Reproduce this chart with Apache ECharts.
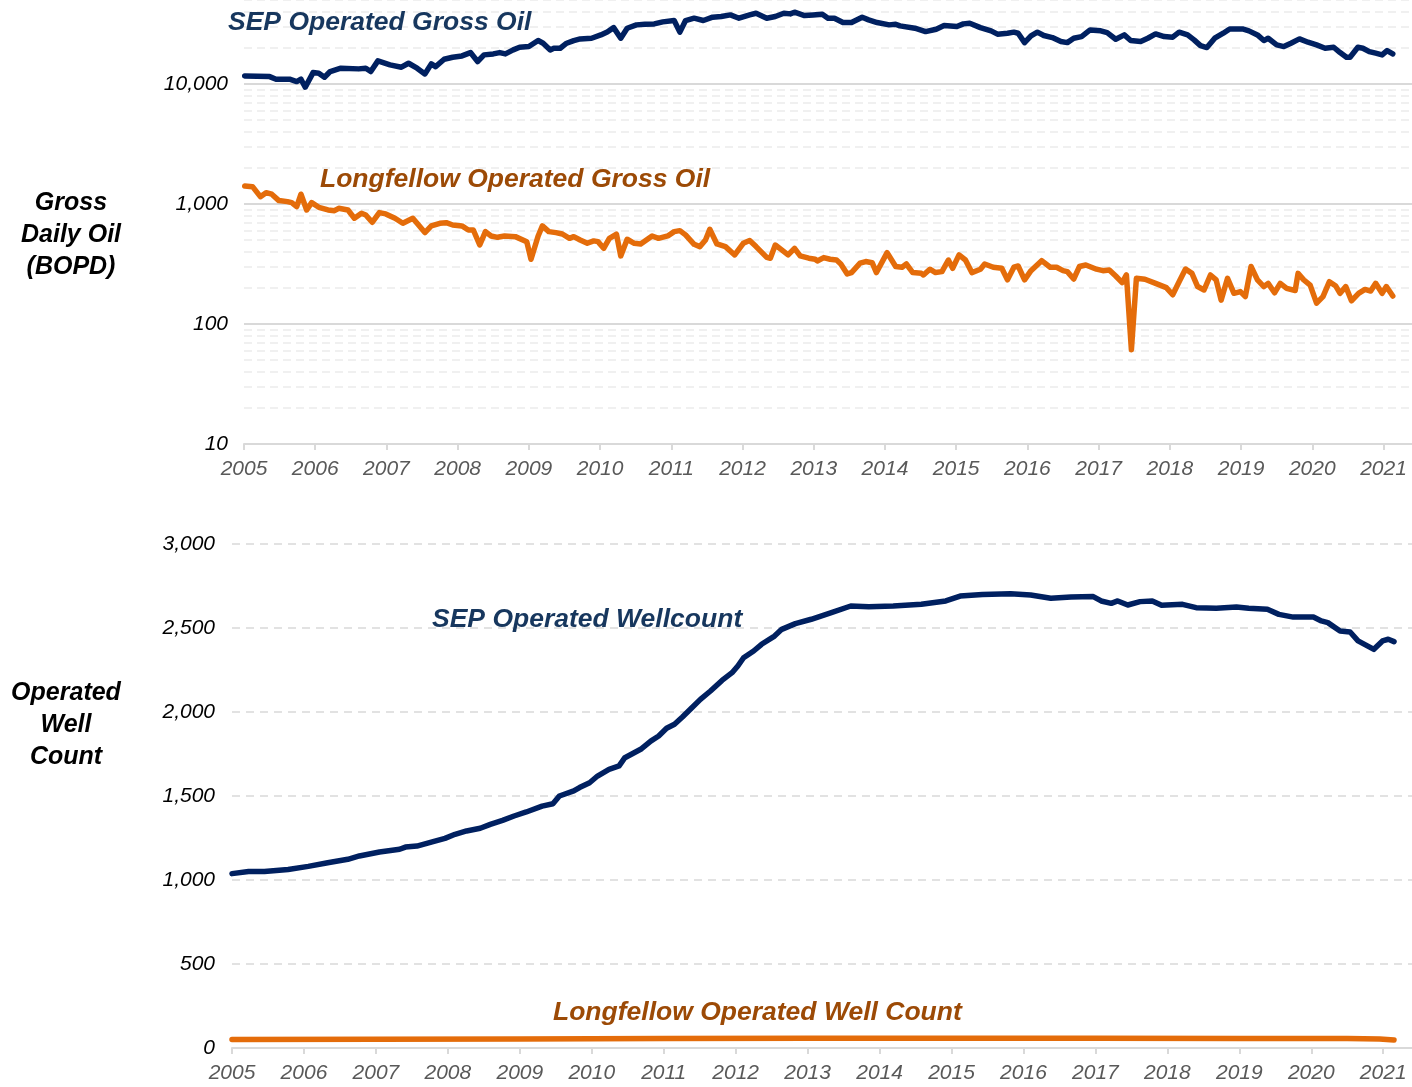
<!DOCTYPE html>
<html>
<head>
<meta charset="utf-8">
<script src="https://cdn.jsdelivr.net/npm/echarts@6/dist/echarts.min.js"></script>
<style>
html,body{margin:0;padding:0;background:#fff;}
#main{width:1412px;height:1087px;}
</style>
</head>
<body>
<div id="main"></div>
<script>
// ---------- DATA ----------
const yearTicks = [2005,2006,2007,2008,2009,2010,2011,2012,2013,2014,2015,2016,2017,2018,2019,2020,2021];
const oilMinorGrid = [20,30,40,50,60,70,80,90,200,300,400,500,600,700,800,900,2000,3000,4000,5000,6000,7000,8000,9000,20000,30000,40000,50000];

// SEP Operated Gross Oil (BOPD) [decimal year, value]
const sepOil = [
[2005.01,11660],[2005.36,11500],[2005.45,10940],[2005.64,10940],[2005.74,10450],[2005.80,10940],[2005.86,9390],[2005.97,12420],[2006.05,12270],[2006.13,11360],[2006.21,12670],[2006.36,13510],[2006.61,13340],[2006.71,13510],[2006.78,12670],[2006.88,15550],[2007.05,14390],[2007.21,13770],[2007.31,14860],[2007.43,13510],[2007.54,12110],[2007.63,14680],[2007.69,13930],[2007.81,16060],[2007.93,16680],[2008.06,17100],[2008.18,18240],[2008.28,15360],[2008.37,17450],[2008.50,17780],[2008.59,18240],[2008.67,17780],[2008.78,19200],[2008.87,20200],[2009.00,20470],[2009.13,22970],[2009.20,21830],[2009.30,19200],[2009.35,19830],[2009.44,19830],[2009.53,21830],[2009.63,22970],[2009.72,23710],[2009.88,24020],[2010.01,25590],[2010.10,27100],[2010.19,29440],[2010.29,24020],[2010.38,29100],[2010.51,31030],[2010.63,31440],[2010.76,31620],[2010.88,32870],[2011.04,33720],[2011.12,26980],[2011.20,33720],[2011.32,35260],[2011.45,33720],[2011.58,35940],[2011.70,36400],[2011.83,37580],[2011.95,35260],
[2012.10,37580],[2012.19,38800],[2012.34,35260],[2012.46,36400],[2012.58,38800],[2012.67,38310],[2012.73,39560],[2012.87,37100],[2012.99,37580],[2013.12,38100],[2013.20,35260],[2013.29,35260],[2013.41,32430],[2013.53,32430],[2013.68,35940],[2013.77,34150],[2013.89,32430],[2014.06,31030],[2014.15,31440],[2014.21,30430],[2014.42,29100],[2014.57,27290],[2014.72,28560],[2014.83,30610],[2015.01,30040],[2015.10,31620],[2015.19,32060],[2015.34,29440],[2015.49,27660],[2015.58,25960],[2015.72,26440],[2015.81,26980],[2015.87,26440],[2015.96,22080],[2016.05,25120],[2016.14,26980],[2016.23,25290],[2016.35,24320],[2016.47,22520],[2016.56,22080],[2016.65,24020],[2016.76,24790],[2016.88,28180],[2017.03,27660],[2017.12,26760],[2017.24,23560],[2017.36,25590],[2017.45,22970],[2017.59,22520],[2017.69,24020],[2017.80,26100],[2017.92,24790],[2018.04,24490],[2018.13,26980],[2018.25,25590],[2018.34,23280],[2018.43,20850],[2018.52,20070],[2018.63,24020],[2018.75,26440],[2018.84,28710],[2019.02,28710],[2019.11,27660],[2019.23,25590],[2019.32,22970],[2019.38,24020],[2019.50,21130],[2019.60,20470],[2019.70,21830],[2019.82,23710],[2019.94,22250],[2020.06,21130],[2020.18,19830],[2020.30,20200],[2020.39,18240],[2020.48,16680],[2020.53,16680],[2020.64,20200],[2020.71,19830],[2020.80,18560],[2020.89,18020],[2020.98,17450],[2021.05,18950],[2021.13,17780]
];

// Longfellow Operated Gross Oil (BOPD)
const lfOil = [
[2005.01,1413],[2005.12,1393],[2005.23,1150],[2005.31,1242],[2005.39,1205],[2005.49,1066],[2005.61,1045],[2005.67,1026],[2005.74,950],[2005.80,1205],[2005.88,891],[2005.95,1026],[2006.05,938],[2006.18,891],[2006.27,879],[2006.33,920],[2006.46,891],[2006.55,760],[2006.65,836],[2006.71,809],[2006.80,703],[2006.90,847],[2006.99,826],[2007.12,760],[2007.23,690],[2007.37,760],[2007.43,690],[2007.54,577],[2007.63,656],[2007.75,690],[2007.84,698],[2007.93,668],[2008.06,656],[2008.15,607],[2008.22,607],[2008.31,455],[2008.39,588],[2008.47,541],[2008.56,527],[2008.66,541],[2008.81,534],[2008.97,485],[2009.03,346],[2009.13,541],[2009.19,656],[2009.28,588],[2009.38,577],[2009.47,562],[2009.57,517],[2009.63,534],[2009.72,501],[2009.82,470],[2009.91,492],[2009.97,485],[2010.05,427],[2010.13,517],[2010.23,559],[2010.29,369],[2010.38,508],[2010.48,470],[2010.57,464],[2010.73,541],[2010.82,517],[2010.95,541],[2011.04,588],[2011.12,599],[2011.20,552],[2011.32,461],[2011.40,441],[2011.48,501],[2011.54,615],[2011.64,464],[2011.76,441],[2011.89,376],[2012.01,470],
[2012.10,495],[2012.19,441],[2012.34,359],[2012.39,353],[2012.46,455],[2012.55,414],[2012.64,376],[2012.73,427],[2012.81,369],[2012.93,353],[2013.02,346],[2013.05,335],[2013.14,357],[2013.23,346],[2013.32,341],[2013.38,316],[2013.47,261],[2013.53,268],[2013.65,321],[2013.73,331],[2013.82,324],[2013.88,268],[2014.03,393],[2014.15,301],[2014.24,297],[2014.30,316],[2014.39,268],[2014.51,264],[2014.54,256],[2014.63,286],[2014.71,268],[2014.80,273],[2014.89,341],[2014.95,291],[2015.04,376],[2015.13,341],[2015.22,268],[2015.34,286],[2015.40,316],[2015.52,297],[2015.64,291],[2015.72,233],[2015.81,297],[2015.87,304],[2015.96,233],[2016.05,278],[2016.20,337],[2016.32,297],[2016.41,297],[2016.50,278],[2016.56,273],[2016.65,237],[2016.73,301],[2016.82,310],[2016.97,286],[2017.06,278],[2017.15,282],[2017.24,251],[2017.33,221],[2017.39,256],[2017.46,61],[2017.53,240],[2017.65,236],[2017.80,218],[2017.95,201],[2018.04,175],[2018.13,225],[2018.22,287],[2018.31,264],[2018.39,205],[2018.48,192],[2018.57,256],[2018.65,233],[2018.72,158],[2018.81,240],[2018.90,180],[2018.99,186],[2019.06,169],[2019.14,301],[2019.23,233],[2019.32,205],[2019.38,218],[2019.47,182],[2019.55,218],[2019.64,198],[2019.76,190],[2019.80,264],[2019.88,233],[2019.97,211],[2020.06,149],[2020.15,169],[2020.24,225],[2020.33,207],[2020.39,180],[2020.47,205],[2020.55,156],[2020.65,180],[2020.74,194],[2020.82,188],[2020.89,218],[2020.98,180],[2021.04,205],[2021.13,171]
];

// SEP Operated Wellcount
const sepWells = [
[2005.00,1038],[2005.23,1050],[2005.45,1050],[2005.78,1063],[2006.06,1081],[2006.33,1103],[2006.61,1123],[2006.77,1143],[2007.05,1167],[2007.33,1183],[2007.41,1196],[2007.57,1202],[2007.82,1232],[2007.96,1248],[2008.10,1272],[2008.26,1292],[2008.45,1308],[2008.59,1331],[2008.76,1355],[2008.92,1381],[2009.09,1405],[2009.31,1440],[2009.46,1454],[2009.55,1500],[2009.75,1530],[2009.83,1550],[2009.97,1579],[2010.08,1619],[2010.24,1659],[2010.38,1679],[2010.46,1728],[2010.68,1778],[2010.82,1827],[2010.93,1857],[2011.04,1903],[2011.15,1927],[2011.26,1970],[2011.37,2016],[2011.51,2075],[2011.65,2125],[2011.81,2188],[2011.95,2234],[2012.03,2274],[2012.11,2323],[2012.25,2363],[2012.36,2403],[2012.54,2452],[2012.64,2492],[2012.83,2526],[2013.05,2552],[2013.33,2591],[2013.60,2631],[2013.85,2627],[2014.19,2631],[2014.58,2641],[2014.92,2661],[2015.12,2690],[2015.43,2700],[2015.82,2704],[2016.10,2696],[2016.38,2677],[2016.66,2685],[2016.97,2687],[2017.08,2661],[2017.22,2647],[2017.31,2661],[2017.45,2637],[2017.62,2657],[2017.79,2661],[2017.92,2635],[2018.21,2641],[2018.40,2621],[2018.68,2617],[2018.96,2625],[2019.13,2617],[2019.39,2611],[2019.55,2581],[2019.75,2565],[2020.03,2565],[2020.14,2542],[2020.23,2532],[2020.40,2482],[2020.54,2476],[2020.65,2423],[2020.87,2373],[2020.99,2423],[2021.07,2433],[2021.15,2419]
];

// Longfellow Operated Well Count
const lfWells = [
[2005.00,50],[2007.00,52],[2009.00,54],[2011.00,57],[2013.00,58],[2015.00,58],[2017.00,58],[2019.00,57],[2020.50,56],[2020.95,54],[2021.15,47]
];

// ---------- STYLE ----------
const FONT = "'Liberation Sans', Arial, Helvetica, sans-serif";
const NAVY = '#002060';
const ORANGE = '#E46C0A';
const NAVY_TXT = '#17375E';
const ORANGE_TXT = '#9C4A06';

const chart = echarts.init(document.getElementById('main'), null, {renderer: 'canvas'});

function fmtThousands(v) {
  return Math.round(v).toString().replace(/\B(?=(\d{3})+(?!\d))/g, ',');
}

const xAxisCommon = {
  type: 'value',
  min: 2005,
  max: 2021.4,
  interval: 1,
  axisLine: {show: true, lineStyle: {color: '#d9d9d9', width: 2}},
  axisTick: {show: true, customValues: yearTicks, length: 6, lineStyle: {color: '#d9d9d9', width: 2}},
  axisLabel: {
    customValues: yearTicks,
    formatter: v => String(Math.round(v)),
    color: '#595959', fontStyle: 'italic', fontSize: 21, fontFamily: FONT, margin: 15
  },
  splitLine: {show: false}
};

const option = {
  animation: false,
  backgroundColor: '#ffffff',
  grid: [
    {left: 244, right: 0, top: 0, height: 444, containLabel: false, outerBoundsMode: 'none'},
    {left: 232, right: 0, top: 544, height: 504, containLabel: false, outerBoundsMode: 'none'}
  ],
  xAxis: [
    Object.assign({gridIndex: 0}, xAxisCommon),
    Object.assign({gridIndex: 1}, xAxisCommon)
  ],
  yAxis: [
    {
      gridIndex: 0,
      type: 'log',
      logBase: 10,
      min: 10,
      max: 50000,
      axisLine: {show: false},
      axisTick: {show: false},
      axisLabel: {
        showMaxLabel: false,
        formatter: v => {
          const l = Math.log10(v);
          return Math.abs(l - Math.round(l)) < 1e-6 ? fmtThousands(v) : '';
        },
        color: '#000', fontStyle: 'italic', fontSize: 21, fontFamily: FONT, margin: 16
      },
      splitLine: {show: true, showMaxLine: false, lineStyle: {color: '#d9d9d9', width: 2, type: 'solid'}}
    },
    {
      gridIndex: 1,
      type: 'value',
      min: 0,
      max: 3000,
      interval: 500,
      axisLine: {show: false},
      axisTick: {show: false},
      axisLabel: {
        formatter: v => fmtThousands(v),
        color: '#000', fontStyle: 'italic', fontSize: 21, fontFamily: FONT, margin: 17
      },
      splitLine: {show: true, lineStyle: {color: '#d9d9d9', width: 1.5, type: [8, 6]}}
    }
  ],
  series: [
    {
      name: 'minorGrid',
      type: 'line',
      xAxisIndex: 0, yAxisIndex: 0,
      data: [[2005, 10]],
      symbol: 'none',
      lineStyle: {opacity: 0},
      silent: true,
      z: 1,
      markLine: {
        silent: true,
        symbol: 'none',
        label: {show: false},
        lineStyle: {color: '#ebebeb', width: 1.5, type: [8, 5]},
        data: oilMinorGrid.map(v => ({yAxis: v}))
      }
    },
    {
      name: 'SEP Operated Gross Oil',
      type: 'line', xAxisIndex: 0, yAxisIndex: 0,
      data: sepOil, symbol: 'none', z: 5,
      lineStyle: {color: NAVY, width: 5.5, join: 'round', cap: 'round'}
    },
    {
      name: 'Longfellow Operated Gross Oil',
      type: 'line', xAxisIndex: 0, yAxisIndex: 0,
      data: lfOil, symbol: 'none', z: 5,
      lineStyle: {color: ORANGE, width: 5.5, join: 'round', cap: 'round'}
    },
    {
      name: 'SEP Operated Wellcount',
      type: 'line', xAxisIndex: 1, yAxisIndex: 1,
      data: sepWells, symbol: 'none', z: 5,
      lineStyle: {color: NAVY, width: 5.5, join: 'round', cap: 'round'}
    },
    {
      name: 'Longfellow Operated Well Count',
      type: 'line', xAxisIndex: 1, yAxisIndex: 1,
      data: lfWells, symbol: 'none', z: 5,
      lineStyle: {color: ORANGE, width: 5.5, join: 'round', cap: 'round'}
    }
  ],
  graphic: [
    {type: 'text', x: 228, y: 23, z: 10, style: {text: 'SEP Operated Gross Oil', fill: NAVY_TXT, font: 'italic bold 26.5px ' + FONT, align: 'left', verticalAlign: 'middle', textAlign: 'left', textVerticalAlign: 'middle'}},
    {type: 'text', x: 320, y: 180, z: 10, style: {text: 'Longfellow Operated Gross Oil', fill: ORANGE_TXT, font: 'italic bold 26.5px ' + FONT, align: 'left', verticalAlign: 'middle', textAlign: 'left', textVerticalAlign: 'middle'}},
    {type: 'text', x: 432, y: 620, z: 10, style: {text: 'SEP Operated Wellcount', fill: NAVY_TXT, font: 'italic bold 26.5px ' + FONT, align: 'left', verticalAlign: 'middle', textAlign: 'left', textVerticalAlign: 'middle'}},
    {type: 'text', x: 553, y: 1013, z: 10, style: {text: 'Longfellow Operated Well Count', fill: ORANGE_TXT, font: 'italic bold 26.5px ' + FONT, align: 'left', verticalAlign: 'middle', textAlign: 'left', textVerticalAlign: 'middle'}},
    {type: 'text', x: 71, y: 235, z: 10, style: {text: 'Gross\nDaily Oil\n(BOPD)', fill: '#000', font: 'italic bold 25px ' + FONT, lineHeight: 32, align: 'center', verticalAlign: 'middle', textAlign: 'center', textVerticalAlign: 'middle'}},
    {type: 'text', x: 66, y: 725, z: 10, style: {text: 'Operated\nWell\nCount', fill: '#000', font: 'italic bold 25px ' + FONT, lineHeight: 32, align: 'center', verticalAlign: 'middle', textAlign: 'center', textVerticalAlign: 'middle'}}
  ]
};

chart.setOption(option);
</script>
</body>
</html>
